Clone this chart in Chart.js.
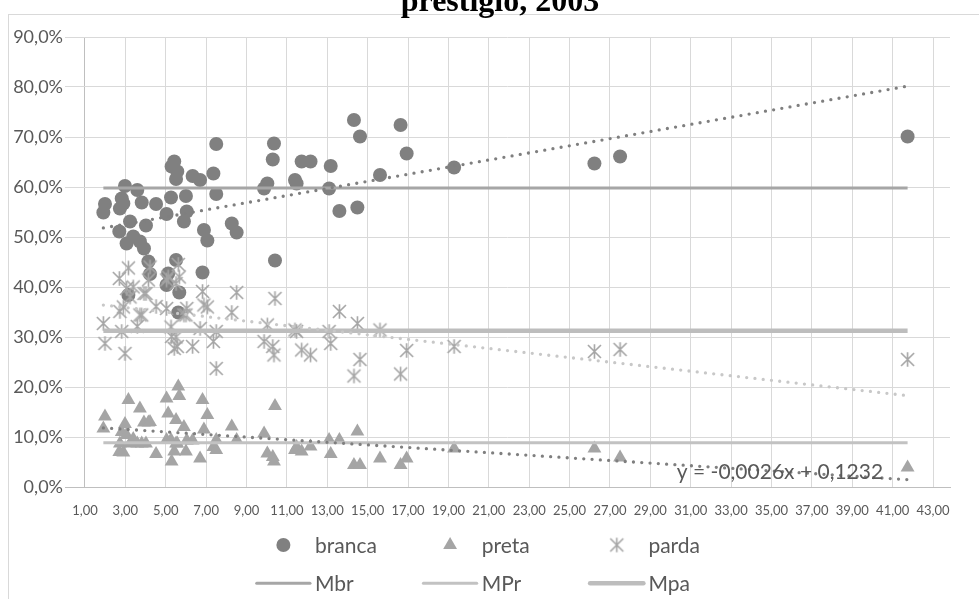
<!DOCTYPE html>
<html>
<head>
<meta charset="utf-8">
<script src="https://cdn.jsdelivr.net/npm/chart.js@4/dist/chart.umd.min.js"></script>
<style>
  html, body { margin: 0; padding: 0; background: #fff; overflow: hidden; }
  #wrap { position: relative; width: 979px; height: 599px; }
</style>
</head>
<body>
<div id="wrap"><canvas id="c" width="979" height="599"></canvas></div>
<script>
// Índice de prestígio (eixo x) e participação de cada grupo de cor
const indice = [1.91, 1.99, 2.70, 2.73, 2.82, 2.90, 2.98, 3.06, 3.15, 3.23, 3.39, 3.59, 3.72, 3.81, 3.92, 4.02, 4.14, 4.22, 4.52, 5.04, 5.04, 5.12, 5.26, 5.29, 5.42, 5.51, 5.51, 5.57, 5.62, 5.67, 5.90, 6.00, 6.04, 6.33, 6.70, 6.82, 6.89, 7.06, 7.36, 7.50, 7.50, 8.27, 8.51, 9.87, 10.03, 10.30, 10.36, 10.41, 11.40, 11.48, 11.73, 12.17, 13.09, 13.17, 13.60, 14.32, 14.49, 14.62, 15.61, 16.63, 16.93, 19.28, 26.23, 27.50, 41.74];
const branca = [0.549, 0.566, 0.511, 0.557, 0.577, 0.567, 0.602, 0.487, 0.384, 0.531, 0.501, 0.594, 0.491, 0.569, 0.477, 0.523, 0.451, 0.426, 0.566, 0.546, 0.404, 0.427, 0.579, 0.641, 0.651, 0.616, 0.454, 0.631, 0.349, 0.389, 0.531, 0.582, 0.551, 0.622, 0.614, 0.429, 0.514, 0.493, 0.627, 0.686, 0.586, 0.527, 0.509, 0.597, 0.607, 0.655, 0.687, 0.453, 0.614, 0.607, 0.651, 0.651, 0.597, 0.642, 0.552, 0.734, 0.559, 0.701, 0.624, 0.724, 0.667, 0.639, 0.647, 0.661, 0.701];
const preta  = [0.117, 0.141, 0.070, 0.087, 0.110, 0.069, 0.126, 0.104, 0.174, 0.087, 0.096, 0.087, 0.157, 0.087, 0.129, 0.087, 0.129, 0.130, 0.066, 0.094, 0.177, 0.147, 0.094, 0.051, 0.071, 0.087, 0.134, 0.087, 0.201, 0.182, 0.120, 0.071, 0.093, 0.093, 0.057, 0.174, 0.115, 0.144, 0.080, 0.074, 0.094, 0.121, 0.094, 0.107, 0.067, 0.060, 0.051, 0.162, 0.074, 0.080, 0.071, 0.081, 0.094, 0.066, 0.094, 0.044, 0.111, 0.044, 0.057, 0.044, 0.057, 0.077, 0.077, 0.059, 0.039];
const parda  = [0.327, 0.287, 0.417, 0.351, 0.311, 0.360, 0.267, 0.397, 0.438, 0.380, 0.400, 0.321, 0.344, 0.344, 0.387, 0.387, 0.414, 0.440, 0.361, 0.357, 0.414, 0.420, 0.320, 0.301, 0.277, 0.300, 0.407, 0.281, 0.445, 0.420, 0.344, 0.344, 0.357, 0.281, 0.317, 0.391, 0.364, 0.360, 0.291, 0.237, 0.311, 0.349, 0.389, 0.291, 0.324, 0.281, 0.264, 0.377, 0.314, 0.311, 0.274, 0.264, 0.311, 0.287, 0.351, 0.222, 0.327, 0.255, 0.314, 0.226, 0.273, 0.281, 0.271, 0.275, 0.255];

// Médias de cada grupo
const mediaBranca = 0.598;
const mediaPreta  = 0.0885;
const mediaParda  = 0.3125;

// Tendências lineares [inclinação, intercepto]
const tendBranca = [0.00712, 0.5045];
const tendPreta  = [-0.0026, 0.1232];
const tendParda  = [-0.00455, 0.3726];

// Rótulos dos eixos
const xTickValues = [1, 3, 5, 7, 9, 11, 13, 15, 17, 19, 21, 23, 25, 27, 29, 31, 33, 35, 37, 39, 41, 43];
const yTickValues = [0, 0.1, 0.2, 0.3, 0.4, 0.5, 0.6, 0.7, 0.8, 0.9];

const FONT = 'Lato, "Open Sans", sans-serif';
const TEXT = '#595959';

const xMin = Math.min(...indice);
const xMax = Math.max(...indice);
const pts = ys => indice.map((x, i) => ({ x: x, y: ys[i] }));
const flat = v => [{ x: xMin, y: v }, { x: xMax, y: v }];
const trend = c => [{ x: xMin, y: c[0] * xMin + c[1] }, { x: xMax, y: c[0] * xMax + c[1] }];
const comma = (v, d) => v.toFixed(d).replace('.', ',');

// Marcador em asterisco (X com traço vertical)
function makeStar(color, half, lw) {
  const s = Math.ceil(half * 2 + lw * 2);
  const cv = document.createElement('canvas');
  cv.width = s; cv.height = s;
  const g = cv.getContext('2d');
  const c = s / 2;
  g.strokeStyle = color; g.lineWidth = lw;
  g.beginPath();
  g.moveTo(c - half, c - half); g.lineTo(c + half, c + half);
  g.moveTo(c + half, c - half); g.lineTo(c - half, c + half);
  g.moveTo(c, c - half * 1.1); g.lineTo(c, c + half * 1.1);
  g.stroke();
  return cv;
}
const starImg = makeStar('#a5a5a5', 6.5, 1.6);

const dotted = { borderDash: [0, 8.3], borderCapStyle: 'round', borderWidth: 3.3, pointRadius: 0, showLine: true, fill: false };

const datasets = [
  { label: 'branca', data: pts(branca), pointStyle: 'circle', pointRadius: 7, backgroundColor: '#808080', borderWidth: 0, showLine: false, order: 9 },
  { label: 'preta', data: pts(preta), pointStyle: 'triangle', pointRadius: 8, backgroundColor: '#a5a5a5', borderWidth: 0, showLine: false, order: 8 },
  { label: 'parda', data: pts(parda), pointStyle: starImg, pointRadius: 7, backgroundColor: '#a5a5a5', borderColor: '#a5a5a5', borderWidth: 0, showLine: false, order: 7 },
  { label: 'Mbr', data: flat(mediaBranca), borderColor: '#a6a6a6', borderWidth: 3, pointRadius: 0, showLine: true, fill: false, order: 6 },
  { label: 'MPr', data: flat(mediaPreta), borderColor: '#c2c2c2', borderWidth: 3, pointRadius: 0, showLine: true, fill: false, order: 5 },
  { label: 'Mpa', data: flat(mediaParda), borderColor: '#bdbdbd', borderWidth: 4.5, pointRadius: 0, showLine: true, fill: false, order: 4 },
  Object.assign({ label: 'tend branca', data: trend(tendBranca), borderColor: '#7f7f7f', order: 3 }, dotted),
  Object.assign({ label: 'tend parda', data: trend(tendParda), borderColor: '#c8c8c8', order: 2 }, dotted),
  Object.assign({ label: 'tend preta', data: trend(tendPreta), borderColor: '#7f7f7f', order: 1 }, dotted)
];

const legendItems = ['branca', 'preta', 'parda', 'Mbr', 'MPr', 'Mpa'];

const decor = {
  id: 'decor',
  beforeDraw(chart) {
    const ctx = chart.ctx;
    ctx.save();
    ctx.strokeStyle = '#d9d9d9';
    ctx.lineWidth = 1;
    ctx.strokeRect(8.5, 14.5, 1000, 700);
    ctx.restore();
  },
  afterDraw(chart) {
    const ctx = chart.ctx;
    ctx.save();
    // título (última linha)
    ctx.fillStyle = '#000';
    ctx.font = 'bold 32px "Liberation Serif", serif';
    ctx.textAlign = 'center';
    ctx.textBaseline = 'alphabetic';
    ctx.fillText('prestígio, 2003', 500, 10.5);

    // equação da tendência
    const xs = chart.scales.x, ys = chart.scales.y;
    ctx.font = '21px ' + FONT;
    ctx.fillStyle = TEXT;
    ctx.textBaseline = 'middle';
    const eq = 'y = ' + comma(tendPreta[0], 4) + 'x + ' + comma(tendPreta[1], 4);
    ctx.fillText(eq, xs.getPixelForValue(35.42), ys.getPixelForValue(0.03));

    // legenda em duas linhas
    ctx.textAlign = 'left';
    ctx.textBaseline = 'alphabetic';
    const col0 = 256.7, colW = 166.7;
    legendItems.forEach((name, i) => {
      const ds = chart.data.datasets.find(d => d.label === name);
      const row = Math.floor(i / 3), col = i % 3;
      const left = col0 + col * colW;
      const cy = row === 0 ? 545 : 583.3;
      if (ds.showLine) {
        ctx.strokeStyle = ds.borderColor;
        ctx.lineWidth = ds.borderWidth;
        ctx.lineCap = 'round';
        ctx.beginPath();
        ctx.moveTo(left, cy); ctx.lineTo(left + 53.3, cy);
        ctx.stroke();
      } else {
        ctx.fillStyle = ds.backgroundColor;
        ctx.strokeStyle = ds.backgroundColor;
        Chart.helpers.drawPoint(ctx, { pointStyle: ds.pointStyle, radius: ds.pointRadius, borderWidth: 0, rotation: 0 }, left + 26.7, cy);
      }
      ctx.fillStyle = TEXT;
      ctx.font = '21px ' + FONT;
      ctx.fillText(name, left + 58.3, row === 0 ? 552.5 : 591);
    });
    ctx.restore();
  }
};

new Chart(document.getElementById('c'), {
  type: 'scatter',
  data: { datasets: datasets },
  options: {
    responsive: false,
    animation: false,
    devicePixelRatio: 1,
    layout: { padding: { top: 37, right: 29, left: 0, bottom: 0 } },
    plugins: { legend: { display: false }, tooltip: { enabled: false }, title: { display: false } },
    scales: {
      x: {
        type: 'linear',
        min: 0.01,
        max: 43.84,
        afterBuildTicks: s => { s.ticks = xTickValues.map(v => ({ value: v })); },
        afterFit: s => { s.height = 112; },
        ticks: {
          autoSkip: false, maxRotation: 0, minRotation: 0, padding: 16,
          color: TEXT, font: { family: FONT, size: 13 },
          callback: v => comma(v, 2)
        },
        grid: {
          drawTicks: false, lineWidth: 1,
          color: c => (c.tick && c.tick.value === 1) ? '#bfbfbf' : '#d9d9d9'
        },
        border: { color: '#bfbfbf', width: 1 }
      },
      y: {
        min: 0,
        max: 0.9,
        afterBuildTicks: s => { s.ticks = yTickValues.map(v => ({ value: v })); },
        afterFit: s => { s.width = 65; },
        ticks: {
          padding: 2, color: TEXT, font: { family: FONT, size: 18 },
          callback: v => comma(v * 100, 1) + '%'
        },
        grid: { drawTicks: false, color: '#d9d9d9', lineWidth: 1 },
        border: { display: false }
      }
    }
  },
  plugins: [decor]
});
</script>
</body>
</html>
